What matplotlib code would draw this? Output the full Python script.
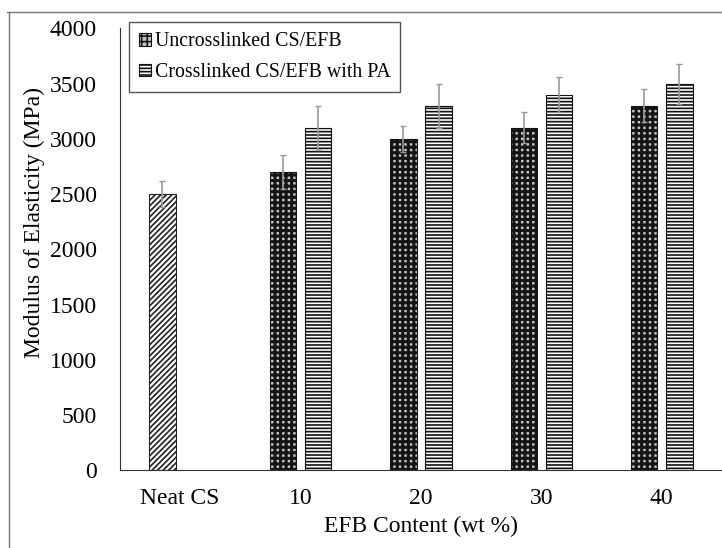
import matplotlib
matplotlib.use("Agg")
import matplotlib.pyplot as plt
from matplotlib.patches import Patch
from matplotlib.lines import Line2D
import numpy as np

categories = ["Neat CS", "10", "20", "30", "40"]
uncross = [2500, 2700, 3000, 3100, 3300]
uncross_err = [120, 150, 120, 140, 150]
cross = [np.nan, 3100, 3300, 3400, 3500]
cross_err = [np.nan, 200, 200, 160, 180]
yticks = [0, 500, 1000, 1500, 2000, 2500, 3000, 3500, 4000]

plt.rcParams['font.family'] = ['Liberation Serif', 'DejaVu Serif']
plt.rcParams['hatch.linewidth'] = 1.2


def hlw(artists, lw):
    for a in artists:
        try:
            a.set_hatch_linewidth(lw)
        except Exception:
            pass


fig = plt.figure(figsize=(7.22, 5.48), dpi=100)
ax = fig.add_axes([0.166, 0.142, 0.834, 0.806])

x = np.arange(len(categories))
w = 0.22
off = 0.146

GRID_FC = '#c4c4c4'
GRID_EC = '#151515'

for i in range(len(categories)):
    if i == 0:
        b = ax.bar(x[i] - off, uncross[i], w, facecolor='white', edgecolor='#222222',
                   hatch='//////', linewidth=0.8, zorder=2)
    else:
        b = ax.bar(x[i] - off, uncross[i], w, facecolor=GRID_FC, edgecolor=GRID_EC,
                   hatch='+++', linewidth=0.8, zorder=2)
        hlw(b, 2.2)
for i in range(1, len(categories)):
    ax.bar(x[i] + off, cross[i], w, facecolor='white', edgecolor='#111111',
           hatch='-----', linewidth=0.8, zorder=2)

ax.errorbar(x - off, uncross, yerr=uncross_err, fmt='none', ecolor='#999999',
            elinewidth=1.2, capsize=2, capthick=1, zorder=3)
ax.errorbar(x[1:] + off, cross[1:], yerr=cross_err[1:], fmt='none', ecolor='#999999',
            elinewidth=1.2, capsize=2, capthick=1, zorder=3)

ax.set_xlim(-0.5, 4.5)
ax.set_ylim(0, 4000)
ax.set_yticks(yticks)
ax.set_xticks(x)
ax.set_xticklabels(categories)
ax.tick_params(axis='both', length=0, labelsize=17)
ax.tick_params(axis='y', pad=16.5)
ax.tick_params(axis='x', pad=13)
for s in ['top', 'right']:
    ax.spines[s].set_visible(False)
ax.spines['left'].set_color('#333333')
ax.spines['bottom'].set_color('#333333')

ax.set_ylabel('Modulus of Elasticity (MPa)', fontsize=17)
ax.yaxis.set_label_coords(-0.125, 0.56)
ax.set_xlabel('EFB Content (wt %)', fontsize=17, labelpad=5)

h1 = Patch(facecolor=GRID_FC, edgecolor=GRID_EC, hatch='+++', linewidth=0.8)
hlw([h1], 2.2)
h2 = Patch(facecolor='white', edgecolor='#111111', hatch='-----', linewidth=0.8)
leg = ax.legend([h1, h2], ['Uncrosslinked CS/EFB', 'Crosslinked CS/EFB with PA'],
                loc='upper left', bbox_to_anchor=(0.015, 1.014), borderaxespad=0,
                fontsize=14.3, handlelength=0.6, handleheight=0.6, handletextpad=0.2,
                fancybox=False, edgecolor='#555555', framealpha=1,
                borderpad=0.5, labelspacing=0.6)
leg.get_frame().set_linewidth(1.0)

fig.add_artist(Line2D([0.01, 1.0], [1 - 12/548, 1 - 12/548], color='#777777', lw=1.0,
                      transform=fig.transFigure))
fig.add_artist(Line2D([0.012, 0.012], [0, 1 - 12/548], color='#777777', lw=1.0,
                      transform=fig.transFigure))

fig.savefig('out.png', dpi=100)
